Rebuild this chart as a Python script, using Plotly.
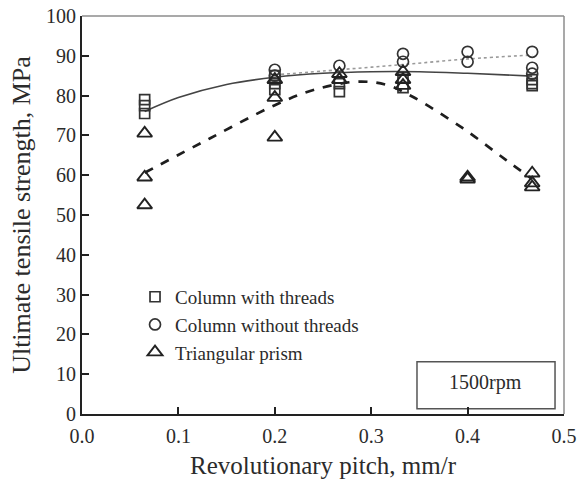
import plotly.graph_objects as go

# ---- data ----
x_threads = [0.065, 0.065, 0.065, 0.2, 0.2, 0.2, 0.267, 0.267, 0.333, 0.333, 0.467, 0.467, 0.467]
y_threads = [79.0, 77.5, 75.5, 85.0, 83.0, 81.5, 83.0, 81.0, 84.5, 82.0, 84.0, 83.0, 82.5]

x_nothreads = [0.2, 0.2, 0.267, 0.333, 0.333, 0.4, 0.4, 0.467, 0.467, 0.467]
y_nothreads = [86.5, 85.0, 87.5, 90.5, 88.5, 91.0, 88.5, 91.0, 87.0, 85.5]

x_prism = [0.065, 0.065, 0.065, 0.2, 0.2, 0.2, 0.267, 0.267, 0.333, 0.333, 0.333, 0.4, 0.4, 0.467, 0.467, 0.467]
y_prism = [70.5, 59.5, 52.5, 84.0, 79.5, 69.5, 85.5, 84.0, 86.0, 84.0, 82.5, 59.5, 59.0, 60.5, 58.0, 57.0]

# fitted trend curves
fit_threads_x = [0.065, 0.1, 0.15, 0.2, 0.25, 0.3, 0.35, 0.4, 0.467]
fit_threads_y = [76.0, 79.5, 82.8, 84.6, 85.6, 86.0, 86.0, 85.6, 84.9]

fit_nothreads_x = [0.2, 0.267, 0.333, 0.4, 0.467]
fit_nothreads_y = [85.2, 86.5, 87.8, 89.2, 90.2]

fit_prism_x = [0.065, 0.133, 0.2, 0.24, 0.285, 0.316, 0.343, 0.395, 0.44, 0.467]
fit_prism_y = [60.6, 69.3, 77.6, 81.4, 83.5, 82.7, 79.7, 71.8, 63.8, 59.0]

x_ticks = [0.0, 0.1, 0.2, 0.3, 0.4, 0.5]
y_ticks = [0, 10, 20, 30, 40, 50, 60, 70, 80, 90, 100]

FONT = "Liberation Serif"
INK = "#2b2b2b"

fig = go.Figure()

# fit lines
fig.add_trace(go.Scatter(x=fit_threads_x, y=fit_threads_y, mode="lines", line_shape="spline",
                         line=dict(color="#444444", width=1.6), showlegend=False, hoverinfo="skip"))
fig.add_trace(go.Scatter(x=fit_nothreads_x, y=fit_nothreads_y, mode="lines", line_shape="spline",
                         line=dict(color="#9a9a9a", width=1.6, dash="dot"), showlegend=False, hoverinfo="skip"))
fig.add_trace(go.Scatter(x=fit_prism_x, y=fit_prism_y, mode="lines", line_shape="spline",
                         line=dict(color="#1e1e1e", width=2.7, dash="dash"), showlegend=False, hoverinfo="skip"))

# markers
fig.add_trace(go.Scatter(x=x_threads, y=y_threads, mode="markers", name="Column with threads",
                         marker=dict(symbol="square-open", size=10, color="#333333", line=dict(width=1.7))))
fig.add_trace(go.Scatter(x=x_nothreads, y=y_nothreads, mode="markers", name="Column without threads",
                         marker=dict(symbol="circle-open", size=11, color="#333333", line=dict(width=1.7))))
fig.add_trace(go.Scatter(x=x_prism, y=y_prism, mode="markers", name="Triangular prism",
                         marker=dict(symbol="triangle-up-open", size=13, color="#222222", line=dict(width=1.9))))

# 1500rpm box
fig.add_shape(type="rect", xref="x", yref="y", x0=0.3475, x1=0.4907, y0=1.3, y1=13.1,
              line=dict(color="#555555", width=1.5), fillcolor="white", layer="below")
fig.add_annotation(x=0.419, y=7.8, xref="x", yref="y", text="1500rpm", showarrow=False,
                   font=dict(family=FONT, size=20, color=INK))

# top and right frame (lighter grey)
fig.add_shape(type="line", xref="paper", yref="paper", x0=0, x1=1, y0=1, y1=1,
              line=dict(color="#8c8c8c", width=1.5))
fig.add_shape(type="line", xref="paper", yref="paper", x0=1, x1=1, y0=0, y1=1,
              line=dict(color="#8c8c8c", width=1.5))

fig.update_layout(
    width=581, height=484,
    margin=dict(l=82, r=17, t=16, b=70, autoexpand=False),
    plot_bgcolor="white", paper_bgcolor="white",
    font=dict(family=FONT, color=INK),
    legend=dict(x=0.11, y=0.342, xanchor="left", yanchor="top",
                font=dict(family=FONT, size=19, color=INK),
                bgcolor="rgba(0,0,0,0)", itemwidth=30, tracegroupgap=0),
    showlegend=True,
)
fig.update_xaxes(range=[0, 0.5], tickvals=x_ticks, ticktext=[f"{v:.1f}" for v in x_ticks],
                 ticks="inside", ticklen=7, tickwidth=1.5, tickcolor="#222", automargin=False,
                 ticklabelstandoff=3,
                 showline=True, linecolor="#222", linewidth=2, showgrid=False, zeroline=False,
                 tickfont=dict(family=FONT, size=20, color=INK),
                 title=dict(text="Revolutionary pitch, mm/r", font=dict(family=FONT, size=25, color=INK), standoff=10))
fig.update_yaxes(range=[0, 100], tickvals=y_ticks,
                 ticks="inside", ticklen=7, tickwidth=1.5, tickcolor="#222", automargin=False,
                 showline=True, linecolor="#222", linewidth=2, showgrid=False, zeroline=False,
                 tickfont=dict(family=FONT, size=20, color=INK),
                 title=dict(text="Ultimate tensile strength, MPa", font=dict(family=FONT, size=26, color=INK), standoff=8))

fig.write_html("out.html")
